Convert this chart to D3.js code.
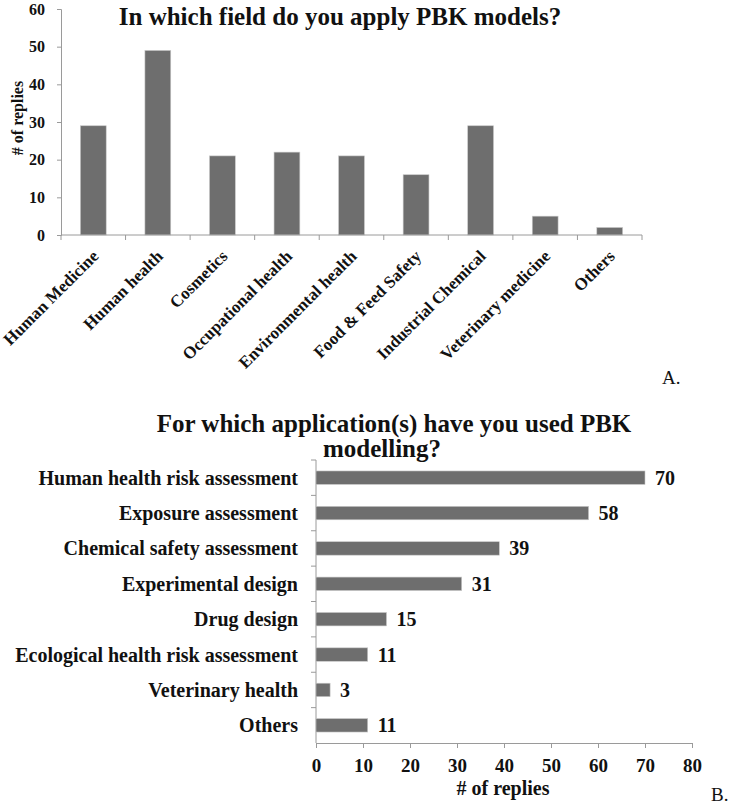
<!DOCTYPE html>
<html>
<head>
<meta charset="utf-8">
<script src="https://cdn.jsdelivr.net/npm/d3@7"></script>
<style>
  body { margin: 0; background: #fff; }
  svg text { font-family: "Liberation Serif", "Times New Roman", serif; fill: #111; }
  .axis path, .axis line { stroke: #9a9a9a; }
</style>
</head>
<body>
<div id="chart"></div>
<script>
// chart A: fields
var fields = ["Human Medicine", "Human health", "Cosmetics", "Occupational health",
  "Environmental health", "Food & Feed Safety", "Industrial Chemical",
  "Veterinary medicine", "Others"];
var fieldReplies = [29, 49, 21, 22, 21, 16, 29, 5, 2];
var fieldTicks = [0, 10, 20, 30, 40, 50, 60];

// chart B: applications
var applications = ["Human health risk assessment", "Exposure assessment",
  "Chemical safety assessment", "Experimental design", "Drug design",
  "Ecological health risk assessment", "Veterinary health", "Others"];
var appReplies = [70, 58, 39, 31, 15, 11, 3, 11];
var appTicks = [0, 10, 20, 30, 40, 50, 60, 70, 80];

var width = 731, height = 808;
var barColor = "#6e6e6e";

var svg = d3.select("#chart").append("svg")
  .attr("width", width)
  .attr("height", height);

// ---------- A ----------
var xA = d3.scaleBand().domain(fields).range([61, 642]);
var yA = d3.scaleLinear().domain([0, 60]).range([235, 9]);

var gA = svg.append("g");

gA.append("g")
  .attr("class", "axis")
  .attr("transform", "translate(61,0)")
  .call(d3.axisLeft(yA).tickValues(fieldTicks).tickSize(4).tickPadding(12))
  .call(function (g) {
    g.selectAll("text").style("font-size", "16px").style("font-weight", "bold");
  });

gA.selectAll("rect.bar")
  .data(fields)
  .enter().append("rect")
  .attr("class", "bar")
  .attr("x", function (d) { return xA(d) + xA.bandwidth() * 0.3; })
  .attr("width", xA.bandwidth() * 0.4)
  .attr("y", function (d, i) { return yA(fieldReplies[i]); })
  .attr("height", function (d, i) { return yA(0) - yA(fieldReplies[i]); })
  .attr("fill", barColor)
  .attr("stroke", "#c8c8c8")
  .attr("stroke-width", 0.6);

// x baseline with ticks at band boundaries
gA.append("line")
  .attr("x1", xA.range()[0]).attr("x2", xA.range()[1])
  .attr("y1", yA(0)).attr("y2", yA(0))
  .attr("stroke", "#9a9a9a");
gA.selectAll("line.xtick")
  .data(fields.map(function (d) { return xA(d); }).concat([xA.range()[1]]))
  .enter().append("line")
  .attr("class", "xtick")
  .attr("x1", function (d) { return d; }).attr("x2", function (d) { return d; })
  .attr("y1", yA(0)).attr("y2", yA(0) + 5)
  .attr("stroke", "#9a9a9a");

gA.selectAll("text.xlab")
  .data(fields)
  .enter().append("text")
  .attr("class", "xlab")
  .attr("transform", function (d) {
    return "translate(" + (xA(d) + xA.bandwidth() / 2 + 2) + "," + (yA(0) + 18) + ")rotate(-45)";
  })
  .attr("text-anchor", "end")
  .attr("dy", "0.35em")
  .style("font-size", "17px")
  .style("font-weight", "bold")
  .text(function (d) { return d; });

gA.append("text")
  .attr("transform", "translate(23,118)rotate(-90)")
  .attr("text-anchor", "middle")
  .style("font-size", "16px")
  .style("font-weight", "bold")
  .text("# of replies");

gA.append("text")
  .attr("x", 340).attr("y", 25)
  .attr("text-anchor", "middle")
  .style("font-size", "25px")
  .style("font-weight", "bold")
  .text("In which field do you apply PBK models?");

gA.append("text")
  .attr("x", 662).attr("y", 384)
  .style("font-size", "19px")
  .text("A.");

// ---------- B ----------
var xB = d3.scaleLinear().domain([0, 80]).range([316, 692]);
var yB = d3.scaleBand().domain(applications).range([460, 743]);

var gB = svg.append("g");

gB.append("g")
  .attr("class", "axis")
  .attr("transform", "translate(0,743)")
  .call(d3.axisBottom(xB).tickValues(appTicks).tickSize(5).tickPadding(11))
  .call(function (g) {
    g.selectAll("text").style("font-size", "19px").style("font-weight", "bold");
  });

gB.append("line")
  .attr("x1", xB(0)).attr("x2", xB(0))
  .attr("y1", yB.range()[0]).attr("y2", yB.range()[1])
  .attr("stroke", "#9a9a9a");
gB.selectAll("line.ytick")
  .data(applications.map(function (d) { return yB(d); }))
  .enter().append("line")
  .attr("class", "ytick")
  .attr("x1", xB(0) - 5).attr("x2", xB(0))
  .attr("y1", function (d) { return d; }).attr("y2", function (d) { return d; })
  .attr("stroke", "#9a9a9a");

gB.selectAll("rect.bar")
  .data(applications)
  .enter().append("rect")
  .attr("class", "bar")
  .attr("x", xB(0))
  .attr("y", function (d) { return yB(d) + yB.bandwidth() * 0.31; })
  .attr("height", yB.bandwidth() * 0.38)
  .attr("width", function (d, i) { return xB(appReplies[i]) - xB(0); })
  .attr("fill", barColor)
  .attr("stroke", "#c8c8c8")
  .attr("stroke-width", 0.6);

gB.selectAll("text.val")
  .data(applications)
  .enter().append("text")
  .attr("class", "val")
  .attr("x", function (d, i) { return xB(appReplies[i]) + 10; })
  .attr("y", function (d) { return yB(d) + yB.bandwidth() / 2; })
  .attr("dy", "0.35em")
  .style("font-size", "20px")
  .style("font-weight", "bold")
  .text(function (d, i) { return appReplies[i]; });

gB.selectAll("text.cat")
  .data(applications)
  .enter().append("text")
  .attr("class", "cat")
  .attr("x", 298)
  .attr("y", function (d) { return yB(d) + yB.bandwidth() / 2; })
  .attr("dy", "0.35em")
  .attr("text-anchor", "end")
  .style("font-size", "20px")
  .style("font-weight", "bold")
  .text(function (d) { return d; });

gB.append("text")
  .attr("x", 394).attr("y", 432)
  .attr("text-anchor", "middle")
  .style("font-size", "25px")
  .style("font-weight", "bold")
  .text("For which application(s) have you used PBK");
gB.append("text")
  .attr("x", 382).attr("y", 457)
  .attr("text-anchor", "middle")
  .style("font-size", "25px")
  .style("font-weight", "bold")
  .text("modelling?");

gB.append("text")
  .attr("x", 503).attr("y", 795)
  .attr("text-anchor", "middle")
  .style("font-size", "20px")
  .style("font-weight", "bold")
  .text("# of replies");

gB.append("text")
  .attr("x", 711).attr("y", 801)
  .style("font-size", "19px")
  .text("B.");
</script>
</body>
</html>
